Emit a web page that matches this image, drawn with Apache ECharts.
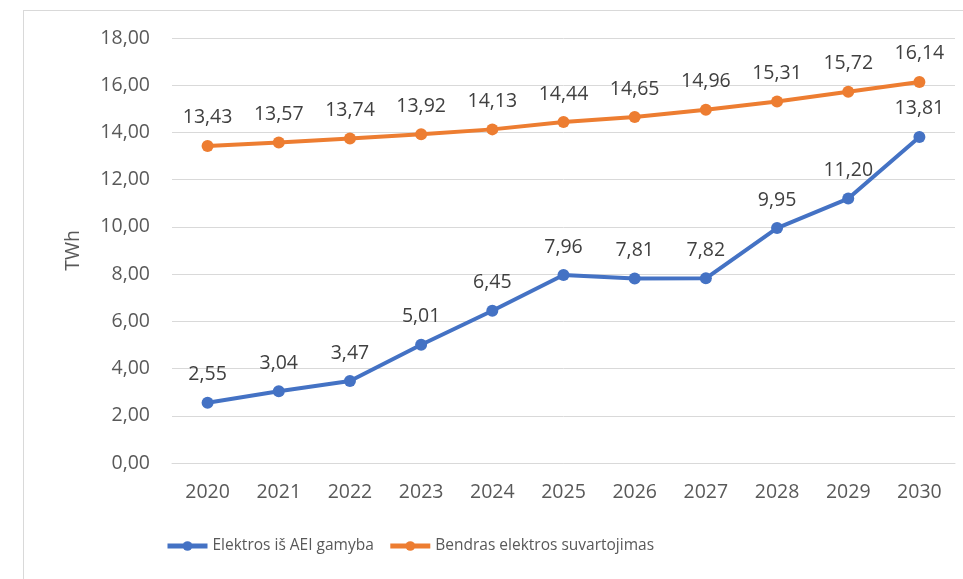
<!DOCTYPE html>
<html>
<head>
<meta charset="utf-8">
<script src="https://cdn.jsdelivr.net/npm/echarts@6/dist/echarts.min.js"></script>
<style>
  html, body { margin: 0; padding: 0; background: #fff; overflow: hidden; }
  #frame { position: absolute; left: 23px; top: 10px; width: 1000px; height: 700px; border: 1px solid #d9d9d9; box-sizing: border-box; }
  #chart { position: absolute; left: 0; top: 0; width: 963px; height: 579px; }
</style>
</head>
<body>
<div id="frame"></div>
<div id="chart"></div>
<script>
// Duomenys
const years = ['2020', '2021', '2022', '2023', '2024', '2025', '2026', '2027', '2028', '2029', '2030'];
const aeiGamyba = [2.55, 3.04, 3.47, 5.01, 6.45, 7.96, 7.81, 7.82, 9.95, 11.20, 13.81];
const suvartojimas = [13.43, 13.57, 13.74, 13.92, 14.13, 14.44, 14.65, 14.96, 15.31, 15.72, 16.14];
const seriesNames = ['Elektros iš AEI gamyba', 'Bendras elektros suvartojimas'];

const FONT = 'Open Sans';

function fmt(v) {
    return v.toFixed(2).replace('.', ',');
}

function makeSeries(name, data, color) {
    return {
        name: name,
        type: 'line',
        data: data,
        symbol: 'circle',
        symbolSize: 12,
        lineStyle: { color: color, width: 4 },
        itemStyle: { color: color },
        label: {
            show: true,
            position: 'top',
            distance: 12,
            color: '#404040',
            fontFamily: FONT,
            fontSize: 19.5,
            formatter: p => fmt(p.value)
        }
    };
}

const chart = echarts.init(document.getElementById('chart'));

chart.setOption({
    animation: false,
    grid: { left: 172, right: 8, top: 38, bottom: 116 },
    legend: {
        bottom: 20,
        left: 160,
        itemWidth: 40,
        itemHeight: 12,
        itemGap: 14,
        lineStyle: { width: 5 },
        textStyle: { color: '#595959', fontFamily: FONT, fontSize: 15.5 },
        data: seriesNames
    },
    xAxis: {
        type: 'category',
        data: years,
        axisLine: { show: true, lineStyle: { color: '#d9d9d9' } },
        axisTick: { show: false },
        axisLabel: { color: '#595959', fontFamily: FONT, fontSize: 19.5, margin: 19 }
    },
    yAxis: {
        type: 'value',
        min: 0,
        max: 18,
        interval: 2,
        name: 'TWh',
        nameLocation: 'middle',
        nameGap: 89,
        nameTextStyle: { color: '#595959', fontFamily: FONT, fontSize: 19.5 },
        axisLabel: { color: '#595959', fontFamily: FONT, fontSize: 19.5, margin: 22, formatter: v => fmt(v) },
        splitLine: { lineStyle: { color: '#d9d9d9', width: 1 } }
    },
    series: [
        makeSeries(seriesNames[0], aeiGamyba, '#4472c4'),
        makeSeries(seriesNames[1], suvartojimas, '#ed7d31')
    ]
});
</script>
</body>
</html>
